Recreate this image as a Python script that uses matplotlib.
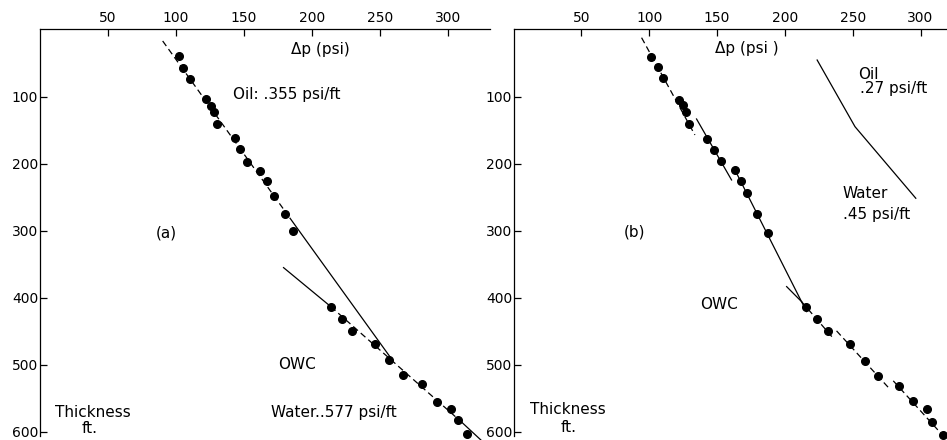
import matplotlib
matplotlib.use("Agg")
import matplotlib.pyplot as plt

W, H, DPI = 947, 440, 100

# ---------------- data (psi, ft) ----------------
x_ticks = [50, 100, 150, 200, 250, 300]
y_ticks = [100, 200, 300, 400, 500, 600]

# panel (a) measured points
dp_a = [102.6, 105.6, 110.7, 122.2, 125.9, 127.9, 130.3, 143.5, 147.0, 152.1,
        162.1, 167.0, 172.2, 180.3, 186.2, 214.0, 222.6, 229.4, 246.3, 256.6,
        267.1, 281.1, 292.4, 302.6, 307.5, 313.9]
ft_a = [39.0, 57.0, 73.8, 103.6, 114.0, 122.5, 141.3, 162.2, 178.6, 197.0,
        210.5, 225.4, 247.8, 275.4, 300.3, 413.1, 432.0, 449.0, 469.3, 493.0,
        515.4, 528.9, 554.8, 566.1, 582.1, 603.4]

# panel (a) fitted gradients
oil_a_dashed_dp = [90.5, 184.1]
oil_a_dashed_ft = [17.1, 281.4]
oil_a_solid_dp = [184.1, 258.1]
oil_a_solid_ft = [281.4, 489.6]
wat_a_solid1_dp = [179.3, 214.0]
wat_a_solid1_ft = [355.0, 413.1]
wat_a_dashed_dp = [214.0, 310.7]
wat_a_dashed_ft = [413.1, 586.4]
wat_a_solid2_dp = [310.7, 324.2]
wat_a_solid2_ft = [586.4, 611.8]

# panel (b) measured points
dp_b = [101.0, 106.2, 109.9, 122.1, 124.6, 127.0, 129.5, 142.7, 147.9, 152.6,
        163.2, 167.4, 171.8, 179.1, 187.7, 215.5, 223.4, 231.5, 247.9, 259.0,
        269.0, 284.2, 294.1, 304.4, 308.1, 316.7]
ft_b = [40.5, 56.4, 71.8, 105.0, 112.5, 122.5, 141.3, 163.2, 179.6, 195.5,
        209.4, 225.8, 244.1, 275.4, 302.8, 413.6, 431.5, 448.9, 468.8, 493.9,
        516.4, 530.8, 553.7, 566.1, 584.6, 604.4]

# panel (b) segment fits
seg1_b_dp = [94.4, 133.7]
seg1_b_ft = [12.2, 157.2]
seg2_b_dp = [134.9, 160.7]
seg2_b_ft = [133.4, 224.3]
seg3_b_dp = [163.2, 216.0]
seg3_b_ft = [209.4, 420.6]
seg4s_b_dp = [201.3, 212.3]
seg4s_b_ft = [383.3, 405.7]
seg4d_b_dp = [212.3, 235.6]
seg4d_b_ft = [405.7, 460.2]
seg5_b_dp = [238.1, 277.9]
seg5_b_ft = [449.3, 537.3]
seg6_b_dp = [279.9, 319.4]
seg6_b_ft = [523.8, 611.8]
# illustrative oil / water gradient curve
grad_b_dp = [223.8, 251.7, 296.5]
grad_b_ft = [45.5, 144.9, 251.6]

FS = 10
FA = 11
plt.rcParams['font.family'] = ['DejaVu Sans']

fig = plt.figure(figsize=(W / DPI, H / DPI), dpi=DPI)
fig.patch.set_facecolor('white')

ax1 = fig.add_axes([39.5 / W, 0, (490 - 39.5) / W, 410.5 / H])
ax2 = fig.add_axes([513.5 / W, 0, (947 - 513.5) / W, 410.5 / H])


def style(ax, xmax):
    ax.set_xlim(0, xmax)
    ax.set_ylim(612, 0)
    ax.set_facecolor('none')
    for s in ['right', 'bottom']:
        ax.spines[s].set_visible(False)
    for s in ['top', 'left']:
        ax.spines[s].set_linewidth(0.9)
        ax.spines[s].set_color('black')
    ax.spines['left'].set_bounds(0, 606)
    ax.xaxis.tick_top()
    ax.set_xticks(x_ticks)
    ax.set_yticks(y_ticks)
    ax.tick_params(axis='x', direction='in', length=5, width=0.9, pad=3,
                   labelsize=FS, top=True, bottom=False, labeltop=True,
                   labelbottom=False)
    ax.tick_params(axis='y', direction='in', length=5, width=0.9, pad=1,
                   labelsize=FS)


style(ax1, 331)
style(ax2, 319.5)

LW = 0.9
DASH = (5, 3)
K = 'black'

# ---- panel (a)
ax1.plot(oil_a_dashed_dp, oil_a_dashed_ft, color=K, lw=LW, dashes=DASH)
ax1.plot(oil_a_solid_dp, oil_a_solid_ft, color=K, lw=LW)
ax1.plot(wat_a_solid1_dp, wat_a_solid1_ft, color=K, lw=LW)
ax1.plot(wat_a_dashed_dp, wat_a_dashed_ft, color=K, lw=LW, dashes=DASH)
ax1.plot(wat_a_solid2_dp, wat_a_solid2_ft, color=K, lw=LW, clip_on=False)
ax1.plot(dp_a, ft_a, 'o', color=K, ms=5.5, clip_on=False)

ax1.text(206.7, 29.1, 'Δp (psi)', ha='center', va='center', fontsize=FA)
ax1.text(142.1, 96.6, 'Oil: .355 psi/ft', ha='left', va='center', fontsize=FA)
ax1.text(93.2, 303, '(a)', ha='center', va='center', fontsize=FA)
ax1.text(175.1, 500, 'OWC', ha='left', va='center', fontsize=FA)
ax1.text(170.0, 570.5, 'Water..577 psi/ft', ha='left', va='center', fontsize=FA)
ax1.text(39.0, 570.5, 'Thickness', ha='center', va='center', fontsize=FA)
ax1.text(37.0, 594.5, 'ft.', ha='center', va='center', fontsize=FA)

# ---- panel (b)
ax2.plot(seg1_b_dp, seg1_b_ft, color=K, lw=LW, dashes=DASH)
ax2.plot(seg2_b_dp, seg2_b_ft, color=K, lw=LW)
ax2.plot(seg3_b_dp, seg3_b_ft, color=K, lw=LW)
ax2.plot(seg4s_b_dp, seg4s_b_ft, color=K, lw=LW)
ax2.plot(seg4d_b_dp, seg4d_b_ft, color=K, lw=LW, dashes=DASH)
ax2.plot(seg5_b_dp, seg5_b_ft, color=K, lw=LW, dashes=DASH)
ax2.plot(seg6_b_dp, seg6_b_ft, color=K, lw=LW, dashes=DASH, clip_on=False)
ax2.plot(grad_b_dp, grad_b_ft, color=K, lw=LW)
ax2.plot(dp_b, ft_b, 'o', color=K, ms=5.5, clip_on=False)

ax2.text(171.8, 29.0, 'Δp (psi )', ha='center', va='center', fontsize=FA)
ax2.text(253.8, 67.8, 'Oil', ha='left', va='center', fontsize=FA)
ax2.text(255.3, 87.6, '.27 psi/ft', ha='left', va='center', fontsize=FA)
ax2.text(242.5, 244.0, 'Water', ha='left', va='center', fontsize=FA)
ax2.text(242.7, 276.5, '.45 psi/ft', ha='left', va='center', fontsize=FA)
ax2.text(89.5, 301.3, '(b)', ha='center', va='center', fontsize=FA)
ax2.text(137.4, 410.6, 'OWC', ha='left', va='center', fontsize=FA)
ax2.text(40.3, 567.0, 'Thickness', ha='center', va='center', fontsize=FA)
ax2.text(40.5, 594.0, 'ft.', ha='center', va='center', fontsize=FA)

fig.savefig('out.png', dpi=DPI, facecolor='white')
